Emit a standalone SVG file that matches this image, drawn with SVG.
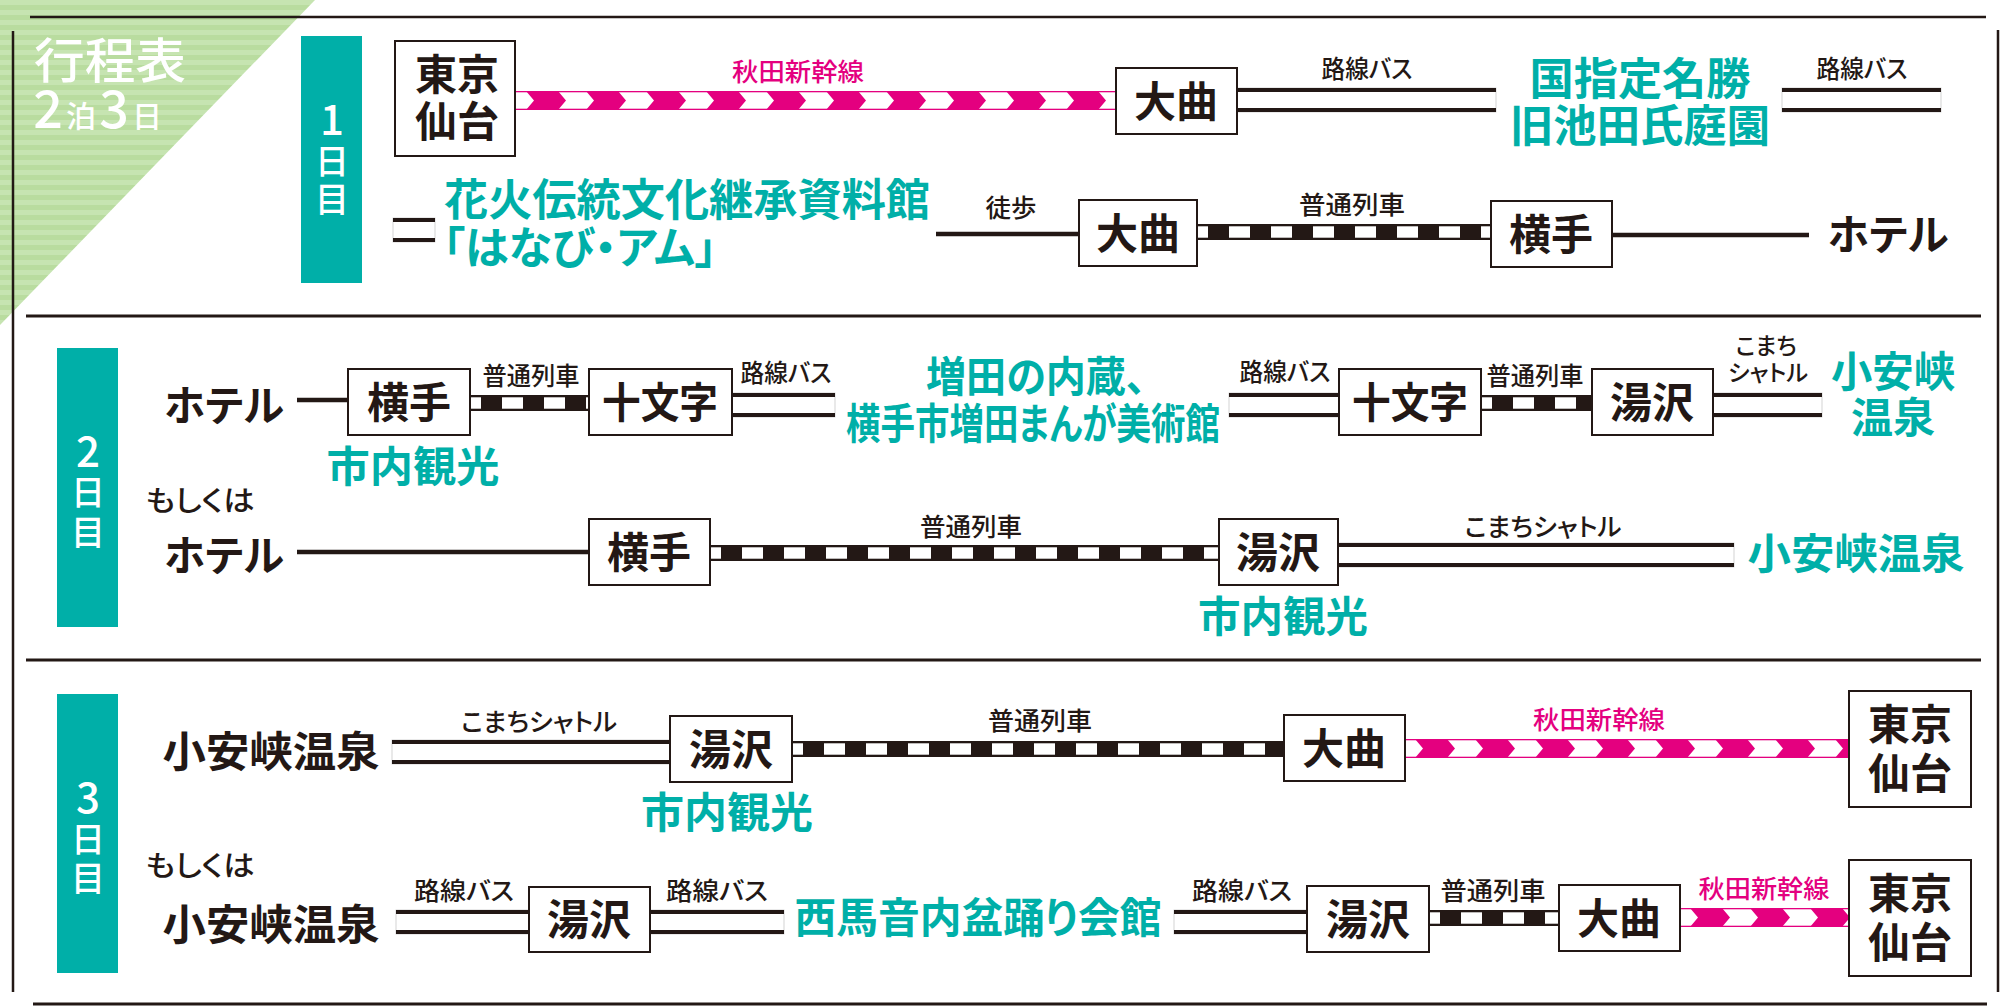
<svg xmlns="http://www.w3.org/2000/svg" width="2000" height="1006" viewBox="0 0 2000 1006">
<defs>
<style>
text{font-family:"Noto Sans CJK JP","Noto Sans",sans-serif;font-feature-settings:"palt";}
.st{font-size:42px;font-weight:700;fill:#231815;text-anchor:middle;}
.lb{font-size:25px;font-weight:500;fill:#231815;text-anchor:middle;}
.pk{fill:#e4007f;}
.tl{font-size:44px;font-weight:700;fill:#00afa8;text-anchor:middle;}
.big{font-size:42px;font-weight:700;fill:#231815;text-anchor:middle;}
.day{font-size:34px;font-weight:500;fill:#fff;text-anchor:middle;}
.num{font-size:42px;}
.box{fill:#fff;stroke:#231815;stroke-width:2;}
.frame{stroke:#231815;stroke-width:2.5;fill:none;}
.bl{fill:#231815;}
.bus-edge{fill:none;stroke:#c8c8c8;stroke-width:0.8;}
.walk{stroke:#231815;stroke-width:4.5;}
</style>
<pattern id="stripes" patternUnits="userSpaceOnUse" width="10" height="10">
<rect width="10" height="10" fill="#b9dc9f"/>
<rect width="10" height="5" fill="#c6e4b1"/>
</pattern>
<pattern id="shin" patternUnits="userSpaceOnUse" x="0" y="0" width="60" height="19">
<rect width="60" height="19" fill="#fff"/>
<rect width="60" height="1.3" fill="#e4007f"/>
<rect y="17.7" width="60" height="1.3" fill="#e4007f"/>
<polygon points="10,0 42,0 50,9.5 42,19 10,19 18,9.5" fill="#e4007f"/>
</pattern>
<pattern id="local" patternUnits="userSpaceOnUse" x="-10" y="0" width="42" height="16">
<rect width="42" height="16" fill="#231815"/>
<rect x="0" y="2.3" width="21" height="11.4" fill="#fff"/>
</pattern>
</defs>
<rect width="2000" height="1006" fill="#fff"/>
<polygon points="0,0 315,0 0,325" fill="url(#stripes)"/>
<g id="frame">
<line class="frame" x1="30" y1="17" x2="1986" y2="17"/>
<line class="frame" x1="13" y1="31" x2="13" y2="992"/>
<line class="frame" x1="1998" y1="30" x2="1998" y2="992"/>
<line class="frame" x1="26" y1="316" x2="1981" y2="316" style="stroke-width:3"/>
<line class="frame" x1="26" y1="660" x2="1981" y2="660" style="stroke-width:3"/>
<line class="frame" x1="33" y1="1004" x2="1987" y2="1004" style="stroke-width:3"/>
</g>
<g id="title">
<text x="34" y="78" font-size="48" font-weight="500" fill="#fff" textLength="152" lengthAdjust="spacingAndGlyphs">行程表</text>
<text x="48" y="128" font-size="52" font-weight="500" fill="#fff" text-anchor="middle">2</text>
<text x="81" y="127" font-size="30" font-weight="500" fill="#fff" text-anchor="middle">泊</text>
<text x="114" y="128" font-size="52" font-weight="500" fill="#fff" text-anchor="middle">3</text>
<text x="147" y="127" font-size="30" font-weight="500" fill="#fff" text-anchor="middle">日</text>
</g>
<g id="day1-label">
<rect x="301" y="36" width="61" height="247" fill="#00afa8"/>
<text class="day num" x="332" y="135">1</text>
<text class="day" x="332" y="174">日</text>
<text class="day" x="332" y="212">目</text>
</g>
<g id="day2-label">
<rect x="57" y="348" width="61" height="279" fill="#00afa8"/>
<text class="day num" x="88" y="467">2</text>
<text class="day" x="88" y="505">日</text>
<text class="day" x="88" y="545">目</text>
</g>
<g id="day3-label">
<rect x="57" y="694" width="61" height="279" fill="#00afa8"/>
<text class="day num" x="88" y="813">3</text>
<text class="day" x="88" y="852">日</text>
<text class="day" x="88" y="891">目</text>
</g>
<g id="connectors">
<g transform="translate(516,91)"><rect width="600" height="19" fill="url(#shin)"/></g>
<g transform="translate(1405,739)"><rect width="444" height="19" fill="url(#shin)"/></g>
<g transform="translate(1680,908)"><rect width="169" height="19" fill="url(#shin)"/></g>
<g transform="translate(1197,224)"><rect width="294" height="16" fill="url(#local)"/></g>
<g transform="translate(470,395)"><rect width="119" height="16" fill="url(#local)"/></g>
<g transform="translate(1481,395)"><rect width="111" height="16" fill="url(#local)"/></g>
<g transform="translate(710,545)"><rect width="509" height="16" fill="url(#local)"/></g>
<g transform="translate(792,741)"><rect width="492" height="16" fill="url(#local)"/></g>
<g transform="translate(1429,910)"><rect width="130" height="16" fill="url(#local)"/></g>
<g transform="translate(1237,88)"><rect class="bus-edge" width="259" height="24"/><rect class="bl" width="259" height="4"/><rect class="bl" y="20" width="259" height="4"/></g>
<g transform="translate(1782,88)"><rect class="bus-edge" width="159" height="24"/><rect class="bl" width="159" height="4"/><rect class="bl" y="20" width="159" height="4"/></g>
<g transform="translate(393,218)"><rect class="bus-edge" width="42" height="24"/><rect class="bl" width="42" height="4"/><rect class="bl" y="20" width="42" height="4"/></g>
<g transform="translate(732,393)"><rect class="bus-edge" width="103" height="24"/><rect class="bl" width="103" height="4"/><rect class="bl" y="20" width="103" height="4"/></g>
<g transform="translate(1229,393)"><rect class="bus-edge" width="110" height="24"/><rect class="bl" width="110" height="4"/><rect class="bl" y="20" width="110" height="4"/></g>
<g transform="translate(1713,393)"><rect class="bus-edge" width="109" height="24"/><rect class="bl" width="109" height="4"/><rect class="bl" y="20" width="109" height="4"/></g>
<g transform="translate(1338,543)"><rect class="bus-edge" width="396" height="24"/><rect class="bl" width="396" height="4"/><rect class="bl" y="20" width="396" height="4"/></g>
<g transform="translate(392,740)"><rect class="bus-edge" width="278" height="24"/><rect class="bl" width="278" height="4"/><rect class="bl" y="20" width="278" height="4"/></g>
<g transform="translate(396,910)"><rect class="bus-edge" width="133" height="24"/><rect class="bl" width="133" height="4"/><rect class="bl" y="20" width="133" height="4"/></g>
<g transform="translate(650,910)"><rect class="bus-edge" width="134" height="24"/><rect class="bl" width="134" height="4"/><rect class="bl" y="20" width="134" height="4"/></g>
<g transform="translate(1174,910)"><rect class="bus-edge" width="133" height="24"/><rect class="bl" width="133" height="4"/><rect class="bl" y="20" width="133" height="4"/></g>
<line class="walk" x1="936" y1="234" x2="1079" y2="234"/>
<line class="walk" x1="1612" y1="235" x2="1809" y2="235"/>
<line class="walk" x1="297" y1="400" x2="348" y2="400"/>
<line class="walk" x1="297" y1="552" x2="589" y2="552"/>
<text class="lb pk" x="798" y="81" textLength="132" lengthAdjust="spacingAndGlyphs">秋田新幹線</text>
<text class="lb" x="1367" y="78" textLength="91" lengthAdjust="spacingAndGlyphs">路線バス</text>
<text class="lb" x="1862" y="78" textLength="91" lengthAdjust="spacingAndGlyphs">路線バス</text>
<text class="lb" x="1011" y="217" textLength="51" lengthAdjust="spacingAndGlyphs">徒歩</text>
<text class="lb" x="1352" y="214" textLength="106" lengthAdjust="spacingAndGlyphs">普通列車</text>
<text class="lb" x="531" y="385" textLength="97" lengthAdjust="spacingAndGlyphs">普通列車</text>
<text class="lb" x="786" y="382" textLength="91" lengthAdjust="spacingAndGlyphs">路線バス</text>
<text class="lb" x="1285" y="381" textLength="91" lengthAdjust="spacingAndGlyphs">路線バス</text>
<text class="lb" x="1535" y="385" textLength="97" lengthAdjust="spacingAndGlyphs">普通列車</text>
<text class="lb" x="1766" y="354" style="font-size:23px" textLength="61" lengthAdjust="spacingAndGlyphs">こまち</text>
<text class="lb" x="1768" y="381" style="font-size:23px" textLength="80" lengthAdjust="spacingAndGlyphs">シャトル</text>
<text class="lb" x="971" y="536" textLength="102" lengthAdjust="spacingAndGlyphs">普通列車</text>
<text class="lb" x="1543" y="536" textLength="157" lengthAdjust="spacingAndGlyphs">こまちシャトル</text>
<text class="lb" x="539" y="731" textLength="156" lengthAdjust="spacingAndGlyphs">こまちシャトル</text>
<text class="lb" x="1040" y="730" textLength="104" lengthAdjust="spacingAndGlyphs">普通列車</text>
<text class="lb pk" x="1599" y="729" textLength="132" lengthAdjust="spacingAndGlyphs">秋田新幹線</text>
<text class="lb" x="464" y="900" textLength="100" lengthAdjust="spacingAndGlyphs">路線バス</text>
<text class="lb" x="717" y="900" textLength="102" lengthAdjust="spacingAndGlyphs">路線バス</text>
<text class="lb" x="1242" y="900" textLength="100" lengthAdjust="spacingAndGlyphs">路線バス</text>
<text class="lb" x="1493" y="900" textLength="105" lengthAdjust="spacingAndGlyphs">普通列車</text>
<text class="lb pk" x="1764" y="898" textLength="131" lengthAdjust="spacingAndGlyphs">秋田新幹線</text>
</g>
<g id="d1-tokyo"><rect class="box" x="395" y="41" width="120" height="115"/><text class="st" x="457" y="90">東京</text><text class="st" x="457" y="137">仙台</text></g>
<g id="d1-omagari-a"><rect class="box" x="1116" y="68" width="121" height="66"/><text class="st" x="1176" y="117">大曲</text></g>
<g id="d1-ikeda"><text class="tl" x="1640" y="95" textLength="221" lengthAdjust="spacingAndGlyphs">国指定名勝</text><text class="tl" x="1640" y="142" textLength="260" lengthAdjust="spacingAndGlyphs">旧池田氏庭園</text></g>
<g id="d1-hanabi"><text class="tl" style="text-anchor:start" x="444" y="216" textLength="486" lengthAdjust="spacingAndGlyphs">花火伝統文化継承資料館</text><text class="tl" style="text-anchor:start" x="443" y="264" textLength="274" lengthAdjust="spacingAndGlyphs">「はなび・アム」</text></g>
<g id="d1-omagari-b"><rect class="box" x="1079" y="200" width="118" height="66"/><text class="st" x="1138" y="249">大曲</text></g>
<g id="d1-yokote"><rect class="box" x="1491" y="201" width="121" height="66"/><text class="st" x="1551" y="250">横手</text></g>
<g id="d1-hotel"><text class="big" x="1888" y="250" textLength="121" lengthAdjust="spacingAndGlyphs">ホテル</text></g>
<g id="d2-hotel-a"><text class="big" x="224" y="421" textLength="120" lengthAdjust="spacingAndGlyphs">ホテル</text></g>
<g id="d2-yokote-a"><rect class="box" x="348" y="369" width="122" height="66"/><text class="st" x="409" y="418">横手</text></g>
<g id="d2-sightseeing-a"><text class="tl" style="font-size:42px" x="413" y="482" textLength="173" lengthAdjust="spacingAndGlyphs">市内観光</text></g>
<g id="d2-jumonji-a"><rect class="box" x="589" y="369" width="143" height="66"/><text class="st" x="660" y="418" textLength="116" lengthAdjust="spacingAndGlyphs">十文字</text></g>
<g id="d2-masuda"><text class="tl" style="font-size:42px" x="1036" y="392" textLength="220" lengthAdjust="spacingAndGlyphs">増田の内蔵、</text><text class="tl" style="font-size:42px" x="1033" y="439" textLength="374" lengthAdjust="spacingAndGlyphs">横手市増田まんが美術館</text></g>
<g id="d2-jumonji-b"><rect class="box" x="1339" y="369" width="142" height="66"/><text class="st" x="1410" y="418" textLength="116" lengthAdjust="spacingAndGlyphs">十文字</text></g>
<g id="d2-yuzawa-a"><rect class="box" x="1592" y="369" width="121" height="66"/><text class="st" x="1652" y="418">湯沢</text></g>
<g id="d2-oyasukyo-a"><text class="tl" style="font-size:42px" x="1893" y="387" textLength="124" lengthAdjust="spacingAndGlyphs">小安峡</text><text class="tl" style="font-size:42px" x="1893" y="433" textLength="84" lengthAdjust="spacingAndGlyphs">温泉</text></g>
<g id="d2-or"><text class="lb" style="font-size:28px" x="200" y="511" textLength="109" lengthAdjust="spacingAndGlyphs">もしくは</text></g>
<g id="d2-hotel-b"><text class="big" x="224" y="571" textLength="120" lengthAdjust="spacingAndGlyphs">ホテル</text></g>
<g id="d2-yokote-b"><rect class="box" x="589" y="519" width="121" height="66"/><text class="st" x="649" y="568">横手</text></g>
<g id="d2-yuzawa-b"><rect class="box" x="1219" y="519" width="119" height="66"/><text class="st" x="1278" y="568">湯沢</text></g>
<g id="d2-sightseeing-b"><text class="tl" style="font-size:42px" x="1283" y="632" textLength="170" lengthAdjust="spacingAndGlyphs">市内観光</text></g>
<g id="d2-oyasukyo-b"><text class="tl" style="font-size:42px" x="1856" y="569" textLength="217" lengthAdjust="spacingAndGlyphs">小安峡温泉</text></g>
<g id="d3-oyasukyo-a"><text class="big" x="271" y="767" textLength="217" lengthAdjust="spacingAndGlyphs">小安峡温泉</text></g>
<g id="d3-yuzawa-a"><rect class="box" x="670" y="716" width="122" height="66"/><text class="st" x="731" y="765">湯沢</text></g>
<g id="d3-sightseeing"><text class="tl" style="font-size:42px" x="727" y="828" textLength="172" lengthAdjust="spacingAndGlyphs">市内観光</text></g>
<g id="d3-omagari-a"><rect class="box" x="1284" y="715" width="121" height="66"/><text class="st" x="1344" y="764">大曲</text></g>
<g id="d3-tokyo-a"><rect class="box" x="1849" y="691" width="122" height="116"/><text class="st" x="1910" y="740">東京</text><text class="st" x="1910" y="789">仙台</text></g>
<g id="d3-or"><text class="lb" style="font-size:28px" x="200" y="876" textLength="109" lengthAdjust="spacingAndGlyphs">もしくは</text></g>
<g id="d3-oyasukyo-b"><text class="big" x="271" y="940" textLength="217" lengthAdjust="spacingAndGlyphs">小安峡温泉</text></g>
<g id="d3-yuzawa-b"><rect class="box" x="529" y="887" width="121" height="65"/><text class="st" x="589" y="935">湯沢</text></g>
<g id="d3-nishimonai"><text class="tl" style="font-size:42px" x="978" y="933" textLength="367" lengthAdjust="spacingAndGlyphs">西馬音内盆踊り会館</text></g>
<g id="d3-yuzawa-c"><rect class="box" x="1307" y="886" width="122" height="66"/><text class="st" x="1368" y="935">湯沢</text></g>
<g id="d3-omagari-b"><rect class="box" x="1559" y="885" width="121" height="66"/><text class="st" x="1619" y="934">大曲</text></g>
<g id="d3-tokyo-b"><rect class="box" x="1849" y="860" width="122" height="116"/><text class="st" x="1910" y="909">東京</text><text class="st" x="1910" y="958">仙台</text></g>
</svg>
